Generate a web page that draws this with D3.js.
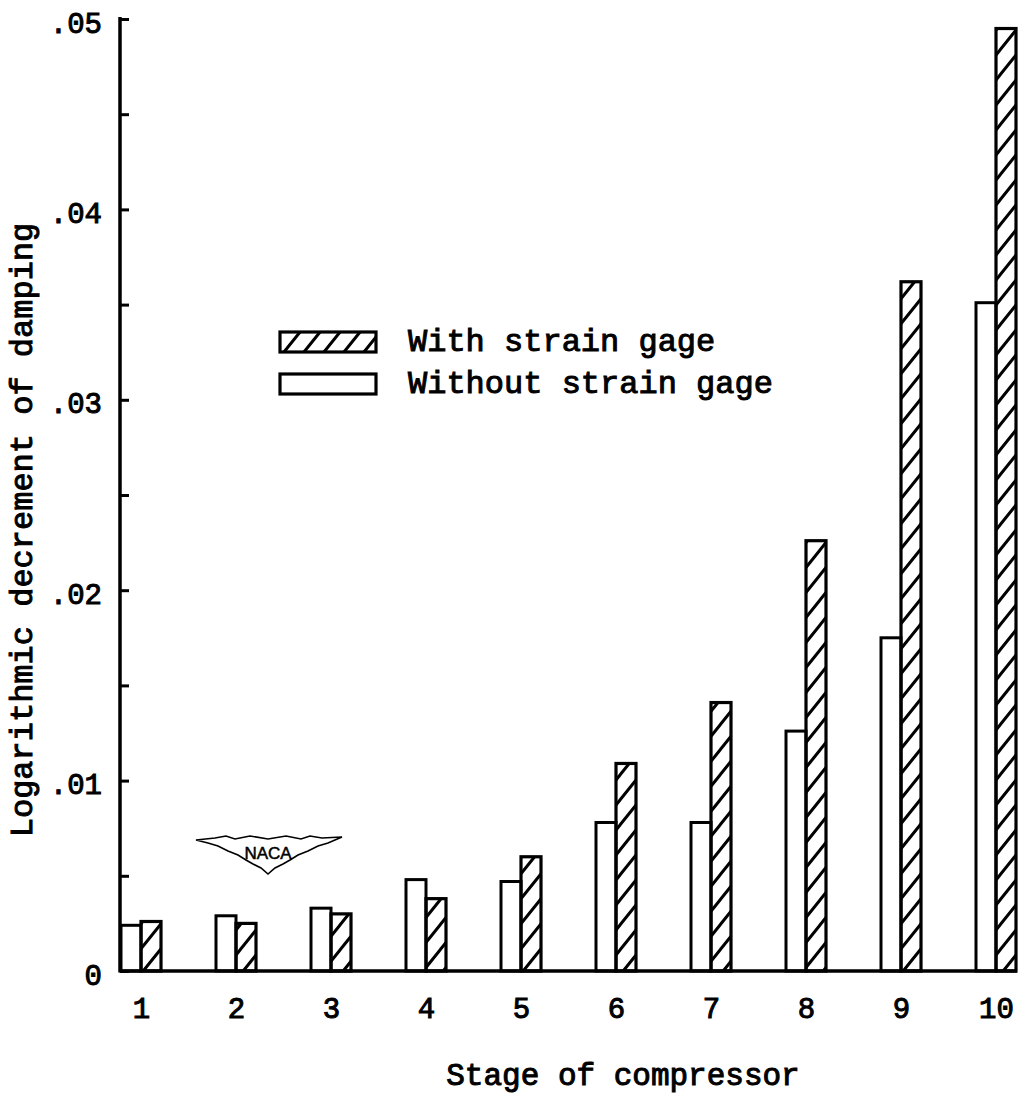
<!DOCTYPE html>
<meta charset="utf-8">
<head>
<style>
  body { margin: 0; background: #fff; }
  text { font-family: "Liberation Mono", "DejaVu Sans Mono", monospace; fill: #000; stroke: #000; stroke-width: 1px; }
</style>
</head>
<body>
<script src="https://d3js.org/d3.v7.min.js"></script>
<script>

// stage numbers and damping values
var stages = [1, 2, 3, 4, 5, 6, 7, 8, 9, 10];
var withoutGage = [0.0024, 0.0029, 0.0033, 0.0048, 0.0047, 0.0078, 0.0078, 0.0126, 0.0175, 0.0351];
var withGage    = [0.0026, 0.0025, 0.0030, 0.0038, 0.0060, 0.0109, 0.0141, 0.0226, 0.0362, 0.0495];
var minorTicks = [0, 0.005, 0.01, 0.015, 0.02, 0.025, 0.03, 0.035, 0.04, 0.045, 0.05];
var majorTicks = [0, 0.01, 0.02, 0.03, 0.04, 0.05];
var legendLabels = ["With strain gage", "Without strain gage"];

var width = 1022,
    height = 1096,
    barW = 20;

var svg = d3.select("body").append("svg")
    .attr("width", width)
    .attr("height", height);

// diagonal hatching, a bit steeper than 45 deg like the drawing
var defs = svg.append("defs");
defs.append("pattern")
    .attr("id", "hatch")
    .attr("patternUnits", "userSpaceOnUse")
    .attr("width", 20)
    .attr("height", 25)
  .append("path")
    .attr("d", "M-4,5 L4,-5 M0,25 L20,0 M16,30 L24,20")
    .attr("stroke", "#000")
    .attr("stroke-width", 3);

var y = d3.scaleLinear().domain([0, 0.05]).range([971, 19]);
var x = d3.scalePoint().domain(stages).range([141, 996]);

// bars
var rows = stages.map(function(s, i) {
  return { stage: s, without: withoutGage[i], with: withGage[i] };
});

var g = svg.append("g").attr("class", "bars");

g.selectAll("rect.without")
    .data(rows)
  .enter().append("rect")
    .attr("class", "without")
    .attr("x", function(d) { return x(d.stage) - barW; })
    .attr("y", function(d) { return y(d.without); })
    .attr("width", barW)
    .attr("height", function(d) { return y(0) - y(d.without); })
    .attr("fill", "#fff")
    .attr("stroke", "#000")
    .attr("stroke-width", 3);

g.selectAll("rect.with")
    .data(rows)
  .enter().append("rect")
    .attr("class", "with")
    .attr("x", function(d) { return x(d.stage); })
    .attr("y", function(d) { return y(d.with); })
    .attr("width", barW)
    .attr("height", function(d) { return y(0) - y(d.with); })
    .attr("fill", "url(#hatch)")
    .attr("stroke", "#000")
    .attr("stroke-width", 3.2);

// y axis line + inward ticks
svg.append("g")
    .attr("transform", "translate(120,0)")
    .call(d3.axisRight(y).tickValues(minorTicks).tickSize(9).tickSizeOuter(0).tickFormat(""))
    .call(function(a) {
      a.select(".domain").attr("stroke-width", 3.5).attr("d", "M0," + (y(0.05) - 2) + "V" + (y(0) + 1.5));
      a.selectAll(".tick line").attr("stroke-width", 3);
    });

// y labels
svg.append("g")
    .attr("transform", "translate(102,0)")
    .call(d3.axisLeft(y).tickValues(majorTicks).tickSize(0).tickPadding(0)
      .tickFormat(function(d) { return d === 0 ? "0" : d3.format(".2f")(d).replace(/^0/, ""); }))
    .call(function(a) {
      a.select(".domain").remove();
      a.selectAll("text").attr("font-size", 29).attr("dy", "0.45em").style("font-family", null);
    });

// baseline
svg.append("line")
    .attr("x1", 120).attr("x2", x(10) + barW + 1)
    .attr("y1", y(0)).attr("y2", y(0))
    .attr("stroke", "#000")
    .attr("stroke-width", 3.5);

// x labels
svg.append("g")
    .attr("transform", "translate(0," + y(0) + ")")
    .call(d3.axisBottom(x).tickSize(0).tickPadding(26))
    .call(function(a) {
      a.select(".domain").remove();
      a.selectAll("text").attr("font-size", 29).style("font-family", null);
    });

// axis titles
svg.append("text")
    .attr("transform", "translate(32,530) rotate(-90)")
    .attr("text-anchor", "middle")
    .attr("font-size", 32)
    .text("Logarithmic decrement of damping");

svg.append("text")
    .attr("x", 623)
    .attr("y", 1085)
    .attr("text-anchor", "middle")
    .attr("font-size", 31)
    .text("Stage of compressor");

// legend
var legend = svg.append("g").attr("class", "legend");
var lg = legend.selectAll("g")
    .data(legendLabels)
  .enter().append("g")
    .attr("transform", function(d, i) { return "translate(280," + (332 + i * 42) + ")"; });

lg.append("rect")
    .attr("width", 96)
    .attr("height", 20)
    .attr("fill", function(d, i) { return i === 0 ? "url(#hatch)" : "#fff"; })
    .attr("stroke", "#000")
    .attr("stroke-width", 3.2);

lg.append("text")
    .attr("x", 128)
    .attr("y", 19)
    .attr("font-size", 32)
    .text(function(d) { return d; });

// NACA emblem
var logo = svg.append("g").attr("class", "naca");
logo.append("path")
    .attr("d", "M196,840 L215,838 L226,836 L235,839 L250,836 L268,839 L286,836 L301,839 L310,836 L322,838 L342,837 " +
               "L328,843 L318,846 L308,851 L298,855 L290,860 L283,864 L275,868 L268,874 L261,868 L253,864 L246,860 " +
               "L238,855 L228,851 L218,846 L208,843 Z")
    .attr("fill", "#fff")
    .attr("stroke", "#000")
    .attr("stroke-width", 1.6);
logo.append("text")
    .attr("x", 268)
    .attr("y", 859)
    .attr("text-anchor", "middle")
    .attr("font-size", 17)
    .style("font-family", "'Liberation Sans', sans-serif")
    .style("stroke-width", "0.5px")
    .text("NACA");

</script>
</body>
